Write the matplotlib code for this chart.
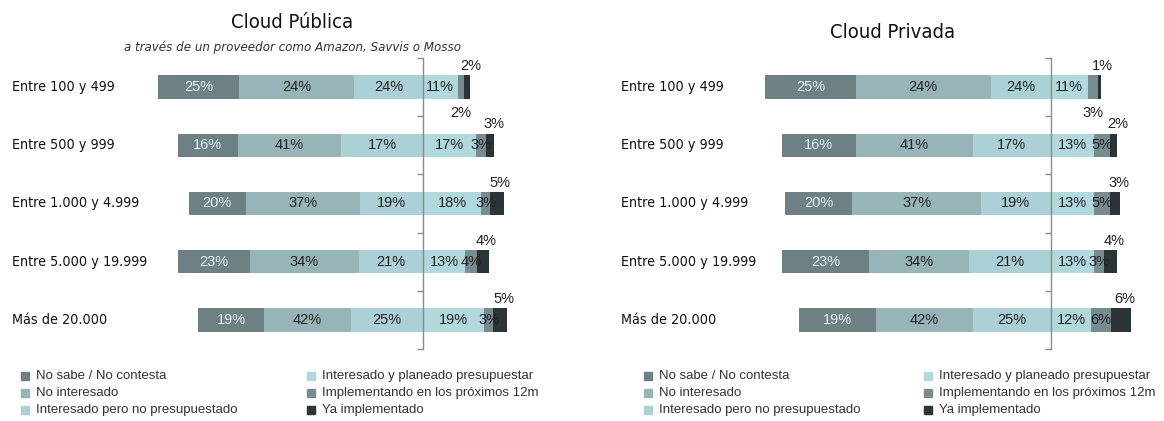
import numpy as np
import matplotlib
matplotlib.use('Agg')
from matplotlib import pyplot as plt
from matplotlib import transforms
from matplotlib.patches import Rectangle
from matplotlib import font_manager

# ----------------------------------------------------------------------------

categories = ['Entre 100 y 499', 'Entre 500 y 999', 'Entre 1.000 y 4.999',
              'Entre 5.000 y 19.999', 'Más de 20.000']
series = ['No sabe / No contesta', 'No interesado',
          'Interesado pero no presupuestado',
          'Interesado y planeado presupuestar',
          'Implementando en los próximos 12m', 'Ya implementado']
colors = ['#6d8185', '#97b4b7', '#abd0d5', '#b1d8dd', '#788c90', '#2b3436']

# Bar lengths (%) as drawn in the picture
publica_values = [[26.0, 36.5, 22.0, 11.0, 2.2, 1.9],
                  [19.0, 33.0, 26.0, 17.0, 3.2, 2.5],
                  [18.0, 36.5, 20.0, 18.5, 2.9, 4.5],
                  [23.0, 34.5, 20.5, 13.5, 3.8, 3.8],
                  [21.0, 27.5, 23.0, 19.5, 2.9, 4.5]]
privada_values = [[27.0, 40.5, 18.0, 11.0, 3.0, 0.9],
                  [22.0, 35.0, 23.5, 13.0, 4.8, 2.1],
                  [20.0, 38.5, 21.0, 13.0, 4.8, 3.0],
                  [26.0, 30.0, 24.5, 13.0, 3.0, 3.9],
                  [23.0, 29.0, 23.5, 12.0, 6.0, 6.0]]

# Labels printed on the bars
publica_labels = [[25, 24, 24, 11, 2, 2],
                  [16, 41, 17, 17, 3, 3],
                  [20, 37, 19, 18, 3, 5],
                  [23, 34, 21, 13, 4, 4],
                  [19, 42, 25, 19, 3, 5]]
privada_labels = [[25, 24, 24, 11, 3, 1],
                  [16, 41, 17, 13, 5, 2],
                  [20, 37, 19, 13, 5, 3],
                  [23, 34, 21, 13, 3, 4],
                  [19, 42, 25, 12, 6, 6]]

# ----------------------------------------------------------------------------

def find_condensed(italic=False):
    """ Look for an installed condensed / narrow face, return a path or None.
    """
    good = []
    for f in font_manager.fontManager.ttflist:
        tag = (f.name + ' ' + f.fname).lower()
        is_cond = ('condensed' in tag or 'narrow' in tag or
                   f.stretch in ('condensed', 'semi-condensed', 'extra-condensed'))
        if not is_cond or 'extra' in tag or 'semicondensed' in tag:
            continue
        if f.weight not in (400, 'normal', 'regular'):
            continue
        if (f.style != 'normal') != italic:
            continue
        good.append(f)
    for pref in ['liberation', 'dejavu', 'roboto', 'noto sans', 'open']:
        for f in good:
            if pref in f.name.lower():
                return f.fname
    return good[0].fname if good else None
#def

cond_path = find_condensed()
cond_it_path = find_condensed(italic=True)


def cond_font(size, italic=False):
    path = cond_it_path if italic else cond_path
    if path is None:
        return font_manager.FontProperties(family='Liberation Sans', size=size*0.87,
                                           style='italic' if italic else 'normal')
    return font_manager.FontProperties(fname=path, size=size)
#def

plt.rcParams['font.family'] = ['Liberation Sans', 'DejaVu Sans']

W, H = 1164, 421
fig = plt.figure(figsize=(W/100, H/100), dpi=100)


def draw_panel(ax, values, labels, label_x):
    vals = np.array(values, dtype=float)
    neg_left = -np.cumsum(vals[:, 2::-1], axis=1)[:, ::-1]
    pos_left = np.cumsum(vals[:, 3:], axis=1) - vals[:, 3:]
    lefts = np.hstack([neg_left, pos_left])
    y = np.arange(len(categories))

    for j in range(len(series)):
        ax.barh(y, vals[:, j], left=lefts[:, j], height=0.4,
                color=colors[j], linewidth=0, zorder=1)

    for i in range(len(categories)):
        for j in range(len(series)):
            txt = '%d%%' % labels[i][j]
            xc = lefts[i, j] + vals[i, j]/2.
            if j < 4 or (j == 4 and i > 0):
                col = '#e6f4f6' if j == 0 else '#222222'
                ax.text(xc, i, txt, ha='center', va='center', fontsize=10.5,
                        color=col, zorder=3)
            elif j == 4:
                # first row: label below the bar
                ax.text(xc, i + 0.45, txt, ha='center', va='center',
                        fontsize=10.5, color='#222222', clip_on=False)
            else:
                ax.text(xc + 1.0, i - 0.36, txt, ha='center', va='center',
                        fontsize=10.5, color='#222222', clip_on=False)
    ###i

    # Category names
    trans = transforms.blended_transform_factory(fig.transFigure, ax.transData)
    for i, cat in enumerate(categories):
        ax.text(label_x/W, i, cat, transform=trans, ha='left', va='center',
                fontproperties=cond_font(10.3), color='#111111')

    ax.set_xlim(-90, 30)
    ax.set_ylim(4.5, -0.5)
    for s in ['top', 'right', 'bottom']:
        ax.spines[s].set_visible(False)
    ax.spines['left'].set_position(('data', 0))
    ax.spines['left'].set_color('#8a8a8a')
    ax.spines['left'].set_linewidth(1.0)
    ax.spines['left'].set_zorder(2)
    ax.set_yticks(np.arange(-0.5, 5.0, 1.0))
    ax.set_yticklabels([])
    ax.tick_params(axis='y', direction='out', length=4, color='#8a8a8a', width=1)
    ax.set_xticks([])
    ax.patch.set_alpha(0)
#def


def draw_legend(x0, x1, y0):
    dy = 17
    for k, name in enumerate(series):
        xm = x0 if k < 3 else x1
        ym = y0 + dy*(k % 3)
        fig.patches.append(Rectangle((xm/W, 1 - (ym + 4)/H), 8/W, 8/H,
                                     transform=fig.transFigure, color=colors[k]))
        fig.text((xm + 15)/W, 1 - ym/H, name, ha='left', va='center',
                 fontsize=9.5, color='#333333')
#def


# Cloud Publica
ax1 = fig.add_axes([(423 - 90*3.14)/W, 72/H, 120*3.14/W, 291/H])
draw_panel(ax1, publica_values, publica_labels, 12)
fig.text(292/W, 1 - 23/H, 'Cloud Pública', ha='center', va='center',
         fontproperties=cond_font(14.5), color='#111111')
fig.text(292/W, 1 - 47/H, 'a través de un proveedor como Amazon, Savvis o Mosso',
         ha='center', va='center', fontproperties=cond_font(9.5, italic=True),
         color='#333333')
draw_legend(21, 307, 376)

# Cloud Privada
ax2 = fig.add_axes([(1051 - 90*3.34)/W, 72/H, 120*3.34/W, 291/H])
draw_panel(ax2, privada_values, privada_labels, 621)
fig.text(893/W, 1 - 33/H, 'Cloud Privada', ha='center', va='center',
         fontproperties=cond_font(14.5), color='#111111')
draw_legend(644, 924, 376)

plt.savefig('out.png', dpi=100)
